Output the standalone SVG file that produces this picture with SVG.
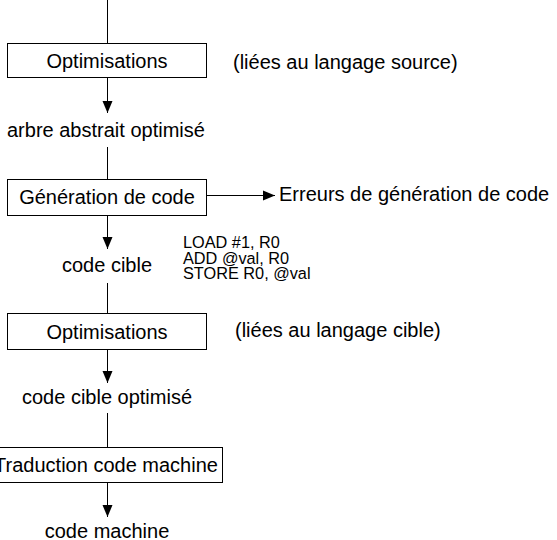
<svg xmlns="http://www.w3.org/2000/svg" width="557" height="540" viewBox="0 0 557 540">
  <style>
    text { font-family: "Liberation Sans", Arial, sans-serif; font-size: 20px; fill: #000; }
    .c { text-anchor: middle; }
    .code { font-size: 16.3px; }
    .box { fill: #fff; stroke: #000; stroke-width: 1; }
    .ln { fill: none; stroke: #000; stroke-width: 1; }
  </style>
  <defs>
    <marker id="ah" markerUnits="userSpaceOnUse" markerWidth="12" markerHeight="12" viewBox="0 0 12 10" refX="12" refY="5" orient="auto">
      <path d="M0,0 L12,5 L0,10 Z" fill="#000"/>
    </marker>
  </defs>

  <g id="connectors">
    <line class="ln" x1="107.5" y1="0" x2="107.5" y2="43"/>
    <line class="ln" x1="107.5" y1="78" x2="107.5" y2="113" marker-end="url(#ah)"/>
    <line class="ln" x1="107.5" y1="147" x2="107.5" y2="179"/>
    <line class="ln" x1="107.5" y1="216" x2="107.5" y2="249" marker-end="url(#ah)"/>
    <line class="ln" x1="207" y1="195.5" x2="275" y2="195.5" marker-end="url(#ah)"/>
    <line class="ln" x1="107.5" y1="283" x2="107.5" y2="313"/>
    <line class="ln" x1="107.5" y1="350" x2="107.5" y2="383" marker-end="url(#ah)"/>
    <line class="ln" x1="107.5" y1="413" x2="107.5" y2="447"/>
    <line class="ln" x1="107.5" y1="483" x2="107.5" y2="517" marker-end="url(#ah)"/>
  </g>

  <g id="opt-source">
    <rect class="box" x="7.5" y="43.5" width="199" height="34"/>
    <text class="c" x="107" y="68">Optimisations</text>
    <text x="233" y="69">(liées au langage source)</text>
  </g>

  <g id="arbre">
    <text x="7" y="137">arbre abstrait optimisé</text>
  </g>

  <g id="generation">
    <rect class="box" x="7.5" y="179.5" width="199" height="36"/>
    <text class="c" x="107" y="204">Génération de code</text>
  </g>

  <g id="erreurs">
    <text x="279" y="201">Erreurs de génération de code</text>
  </g>

  <g id="code-cible">
    <text class="c" x="107" y="272">code cible</text>
  </g>

  <g id="listing">
    <text class="code" x="183" y="248">LOAD #1, R0</text>
    <text class="code" x="183" y="263.5">ADD @val, R0</text>
    <text class="code" x="183" y="279">STORE R0, @val</text>
  </g>

  <g id="opt-cible">
    <rect class="box" x="7.5" y="313.5" width="199" height="36"/>
    <text class="c" x="107" y="339">Optimisations</text>
    <text x="235" y="337">(liées au langage cible)</text>
  </g>

  <g id="code-cible-opt">
    <text class="c" x="107" y="404">code cible optimisé</text>
  </g>

  <g id="traduction">
    <rect class="box" x="-9.5" y="447.5" width="232" height="35"/>
    <text class="c" x="106" y="472">Traduction code machine</text>
  </g>

  <g id="code-machine">
    <text class="c" x="107" y="538">code machine</text>
  </g>
</svg>
